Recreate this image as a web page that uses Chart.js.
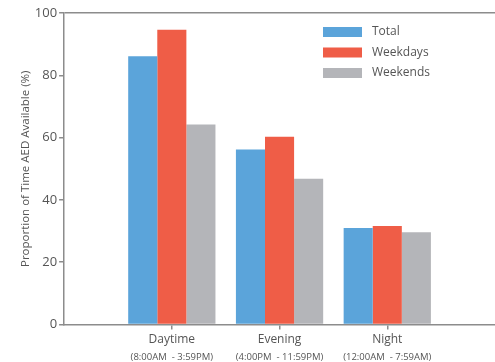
<!DOCTYPE html>
<html>
<head>
<meta charset="utf-8">
<script src="https://cdn.jsdelivr.net/npm/chart.js@4/dist/chart.umd.min.js"></script>
<style>
  html, body { margin: 0; padding: 0; background: #fff; }
  #wrap { width: 495px; height: 362px; }
</style>
</head>
<body>
<div id="wrap"><canvas id="aed-chart"></canvas></div>
<script>
const categories = ['Daytime', 'Evening', 'Night'];
const timeRanges = ['(8:00AM  - 3:59PM)', '(4:00PM  - 11:59PM)', '(12:00AM  - 7:59AM)'];
const total = [86.1, 56.2, 31.0];
const weekdays = [94.6, 60.3, 31.6];
const weekends = [64.2, 46.8, 29.6];
const yTicks = [0, 20, 40, 60, 80, 100];

const textColor = '#555555';
const lineColor = '#8c8c8c';
const fontFamily = "'Open Sans', 'Noto Sans', sans-serif";

// bars sit on a linear x axis so the empty room left/right of the groups matches
const toPoints = arr => arr.map((v, i) => ({ x: i + 1, y: v }));
const catTicks = scale => { scale.ticks = categories.map((c, i) => ({ value: i + 1 })); };

const insideLegend = {
    id: 'insideLegend',
    afterDraw(chart) {
        const ctx = chart.ctx;
        ctx.save();
        ctx.font = '12px ' + fontFamily;
        ctx.textBaseline = 'middle';
        chart.data.datasets.forEach((ds, i) => {
            const y = 32 + i * 20.5;
            ctx.fillStyle = ds.backgroundColor;
            ctx.fillRect(323, y - 5, 39, 10);
            ctx.fillStyle = textColor;
            ctx.fillText(ds.label, 372, y);
        });
        ctx.restore();
    }
};

new Chart(document.getElementById('aed-chart').getContext('2d'), {
    type: 'bar',
    data: {
        datasets: [
            { label: 'Total', data: toPoints(total), backgroundColor: '#5ba4da' },
            { label: 'Weekdays', data: toPoints(weekdays), backgroundColor: '#ef5d47' },
            { label: 'Weekends', data: toPoints(weekends), backgroundColor: '#b4b5b9' }
        ]
    },
    options: {
        responsive: true,
        maintainAspectRatio: false,
        animation: false,
        categoryPercentage: 0.81,
        barPercentage: 1.0,
        layout: { padding: { top: 13, right: 0, left: 19, bottom: -3 } },
        plugins: {
            legend: { display: false },
            tooltip: { enabled: false }
        },
        scales: {
            x: {
                type: 'linear',
                min: 0,
                max: 4,
                offset: false,
                weight: 0,
                afterBuildTicks: catTicks,
                grid: { offset: false, drawOnChartArea: false, color: lineColor, tickLength: 5, lineWidth: 1.5 },
                border: { color: lineColor, width: 1.5 },
                ticks: {
                    color: textColor,
                    font: { family: fontFamily, size: 12, lineHeight: 1.0 },
                    padding: 4,
                    maxRotation: 0,
                    callback: v => categories[v - 1]
                }
            },
            x2: {
                type: 'linear',
                position: 'bottom',
                axis: 'x',
                min: 0,
                max: 4,
                offset: false,
                weight: 1,
                afterBuildTicks: catTicks,
                grid: { display: false, drawTicks: false },
                border: { display: false },
                ticks: {
                    color: textColor,
                    font: { family: fontFamily, size: 9.5, lineHeight: 1.0 },
                    padding: 3,
                    maxRotation: 0,
                    callback: v => timeRanges[v - 1]
                }
            },
            y: {
                min: 0,
                max: 100,
                afterBuildTicks: scale => { scale.ticks = yTicks.map(v => ({ value: v })); },
                grid: {
                    color: c => (c.tick && c.tick.value === 100 ? lineColor : 'transparent'),
                    tickColor: lineColor,
                    tickLength: 5,
                    lineWidth: 1.5
                },
                border: { color: lineColor, width: 1.5 },
                ticks: {
                    color: textColor,
                    font: { family: fontFamily, size: 13 },
                    padding: 2
                },
                title: {
                    display: true,
                    text: 'Proportion of Time AED Available (%)',
                    color: textColor,
                    font: { family: fontFamily, size: 11.5 },
                    padding: { top: 0, bottom: 0 }
                }
            }
        }
    },
    plugins: [insideLegend]
});
</script>
</body>
</html>
